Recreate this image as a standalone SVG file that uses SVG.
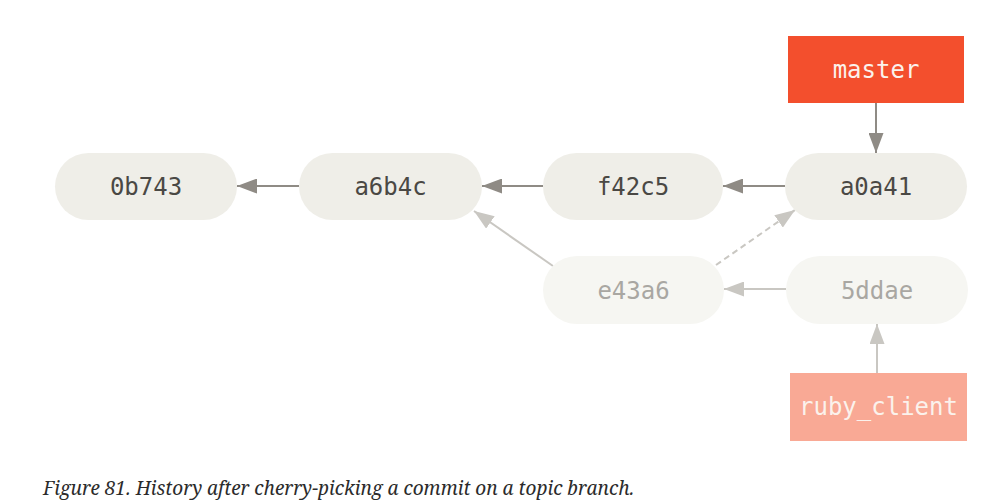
<svg xmlns="http://www.w3.org/2000/svg" width="989" height="503" viewBox="0 0 989 503">
<style>
.pill{fill:#efeee8}
.pillf{fill:#f6f6f2}
.t{font-family:"DejaVu Sans Mono","Liberation Mono",monospace;font-size:24px;text-anchor:middle;fill:#4a4844}
.tf{fill:#a9a7a2}
.tw{fill:#fbf2ec}
.e{stroke:#8f8b85;stroke-width:2;fill:none}
.ef{stroke:#c9c7c2;stroke-width:2;fill:none}
.cap{font-family:"Noto Serif","Liberation Serif",serif;font-style:italic;font-size:19px;fill:#2b2b2b}
</style>
<defs>
<marker id="ah" markerUnits="userSpaceOnUse" markerWidth="21" markerHeight="15" refX="20" refY="7.5" orient="auto">
<path d="M0,0 L20,7.5 L0,15 z" fill="#8f8b85"/>
</marker>
<marker id="ahf" markerUnits="userSpaceOnUse" markerWidth="21" markerHeight="15" refX="20" refY="7.5" orient="auto">
<path d="M0,0 L20,7.5 L0,15 z" fill="#c9c7c2"/>
</marker>
</defs>
<rect width="989" height="503" fill="#ffffff"/>
<g id="connectors">
<line class="e" x1="299" y1="186" x2="237" y2="186" marker-end="url(#ah)"/>
<line class="e" x1="543" y1="186" x2="482" y2="186" marker-end="url(#ah)"/>
<line class="e" x1="785" y1="186" x2="723" y2="186" marker-end="url(#ah)"/>
<line class="e" x1="876" y1="103" x2="876" y2="153" marker-end="url(#ah)"/>
<line class="ef" x1="553" y1="266" x2="474" y2="211" marker-end="url(#ahf)"/>
<line class="ef" x1="716" y1="265" x2="795" y2="210" stroke-dasharray="6,4" marker-end="url(#ahf)"/>
<line class="ef" x1="786" y1="289" x2="724" y2="289" marker-end="url(#ahf)"/>
<line class="ef" x1="877" y1="373" x2="877" y2="324" marker-end="url(#ahf)"/>
</g>
<g id="n0b743"><rect class="pill" x="55" y="153" width="182" height="67" rx="33.5"/><text class="t" x="146" y="195">0b743</text></g>
<g id="na6b4c"><rect class="pill" x="299" y="153" width="183" height="67" rx="33.5"/><text class="t" x="390.5" y="195">a6b4c</text></g>
<g id="nf42c5"><rect class="pill" x="543" y="153" width="180" height="67" rx="33.5"/><text class="t" x="633" y="195">f42c5</text></g>
<g id="na0a41"><rect class="pill" x="785" y="153" width="182" height="67" rx="33.5"/><text class="t" x="876" y="195">a0a41</text></g>
<g id="ne43a6"><rect class="pillf" x="543" y="256" width="181" height="68" rx="34"/><text class="t tf" x="633.5" y="299">e43a6</text></g>
<g id="n5ddae"><rect class="pillf" x="786" y="256" width="182" height="68" rx="34"/><text class="t tf" x="877" y="299">5ddae</text></g>
<g id="master"><rect x="788" y="36" width="176" height="67" fill="#f34f2d"/><text class="t tw" x="876" y="78">master</text></g>
<g id="ruby_client"><rect x="790" y="373" width="177" height="68" fill="#f9a995"/><text class="t tw" x="878.5" y="415">ruby_client</text></g>
<text class="cap" x="43" y="495">Figure 81. History after cherry-picking a commit on a topic branch.</text>
</svg>
